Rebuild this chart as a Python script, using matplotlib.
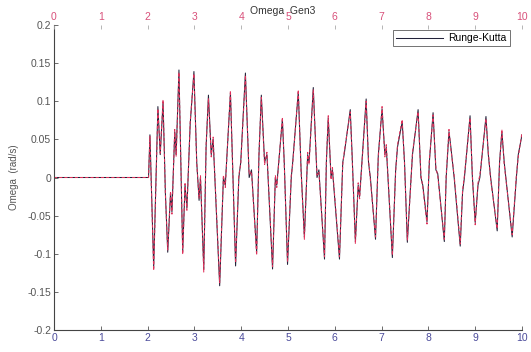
import matplotlib
matplotlib.use("Agg")
import matplotlib.pyplot as plt

# ---- data ----
t_pts = [0.0, 2.02, 2.05, 2.13, 2.22, 2.27, 2.33, 2.38, 2.43, 2.49, 2.52, 2.58,
         2.61, 2.67, 2.71, 2.75, 2.80, 2.84, 2.91, 2.99, 3.05, 3.10, 3.13, 3.20,
         3.25, 3.30, 3.36, 3.40, 3.54, 3.62, 3.66, 3.77, 3.81, 3.88, 3.95, 3.99,
         4.09, 4.17, 4.22, 4.33, 4.38, 4.43, 4.50, 4.55, 4.67, 4.73, 4.76, 4.88,
         4.92, 4.99, 5.07, 5.10, 5.22, 5.28, 5.35, 5.42, 5.45, 5.54, 5.62, 5.66,
         5.78, 5.82, 5.86, 5.92, 5.95, 6.10, 6.17, 6.20, 6.33, 6.37, 6.44, 6.50,
         6.53, 6.67, 6.72, 6.76, 6.87, 6.93, 7.01, 7.07, 7.10, 7.23, 7.30, 7.34,
         7.44, 7.49, 7.55, 7.62, 7.66, 7.78, 7.84, 7.88, 7.97, 8.02, 8.10, 8.16,
         8.20, 8.34, 8.38, 8.44, 8.48, 8.55, 8.68, 8.73, 8.77, 8.89, 8.94, 9.00,
         9.06, 9.10, 9.23, 9.28, 9.33, 9.47, 9.52, 9.57, 9.62, 9.79, 9.88, 9.92,
         10.0]
omega_rk = [0.0, 0.0, 0.056, -0.118, 0.093, 0.03, 0.099, -0.02, -0.098, -0.02,
            -0.045, 0.06, 0.03, 0.141, 0.02, -0.097, -0.01, -0.04, 0.07, 0.139,
            0.02, -0.03, 0.0, -0.12, 0.04, 0.108, 0.03, 0.05, -0.142, 0.0,
            -0.01, 0.111, 0.03, -0.116, 0.0, 0.02, 0.137, 0.0, 0.01, -0.098,
            0.03, 0.108, 0.02, 0.03, -0.12, 0.0, -0.01, 0.076, 0.02, -0.114,
            0.0, 0.02, 0.112, 0.01, -0.078, 0.03, 0.02, 0.118, 0.0, 0.01,
            -0.107, 0.02, 0.078, 0.0, 0.01, -0.107, 0.02, 0.03, 0.089, 0.03,
            -0.084, -0.01, -0.025, 0.103, 0.02, 0.0, -0.081, 0.03, 0.09, 0.03,
            0.04, -0.105, 0.01, 0.04, 0.073, 0.02, -0.085, -0.01, 0.03, 0.089,
            0.0, -0.01, -0.058, 0.02, 0.085, 0.01, 0.005, -0.084, 0.0, 0.06,
            0.04, 0.0, -0.09, -0.02, 0.0, 0.081, 0.0, -0.059, -0.01, 0.0,
            0.08, 0.03, 0.0, -0.07, 0.02, 0.06, 0.02, -0.078, 0.0, 0.03,
            0.056]
omega_ref = [0.0, 0.0, 0.054, -0.122, 0.090, 0.032, 0.102, -0.022, -0.095, -0.018,
             -0.048, 0.063, 0.028, 0.138, 0.024, -0.101, -0.008, -0.043, 0.073, 0.136,
             0.018, -0.027, 0.003, -0.124, 0.043, 0.104, 0.027, 0.053, -0.138, 0.003,
             -0.013, 0.114, 0.027, -0.112, 0.004, 0.017, 0.134, 0.004, 0.008, -0.102,
             0.033, 0.105, 0.017, 0.033, -0.117, 0.003, -0.013, 0.079, 0.017, -0.111,
             0.003, 0.017, 0.115, 0.007, -0.081, 0.033, 0.017, 0.115, 0.003, 0.007,
             -0.104, 0.023, 0.081, -0.003, 0.013, -0.104, 0.017, 0.033, 0.086, 0.027,
             -0.087, -0.007, -0.028, 0.100, 0.023, -0.003, -0.078, 0.027, 0.093, 0.027,
             0.043, -0.102, 0.007, 0.043, 0.076, 0.017, -0.082, -0.013, 0.033, 0.086,
             0.003, -0.013, -0.061, 0.023, 0.082, 0.013, 0.002, -0.081, 0.003, 0.063,
             0.037, 0.003, -0.087, -0.017, 0.003, 0.078, 0.003, -0.062, -0.007, 0.003,
             0.077, 0.033, -0.003, -0.067, 0.017, 0.063, 0.017, -0.075, 0.003, 0.027,
             0.059]
xticks = list(range(0, 11))
yticks = [-0.2, -0.15, -0.1, -0.05, 0, 0.05, 0.1, 0.15, 0.2]
ytick_labels = ["-0.2", "-0.15", "-0.1", "-0.05", "0", "0.05", "0.1", "0.15", "0.2"]

plt.rcParams['font.family'] = ['Liberation Sans', 'DejaVu Sans']

fig = plt.figure(figsize=(5.31, 3.52), dpi=100)
ax = fig.add_axes([54/531, 1-330/352, (522-54)/531, (330-25)/352])

ax.plot(t_pts, omega_rk, color='#23233a', lw=0.75, label='Runge-Kutta')
ax.plot(t_pts, omega_ref, color='#e0305a', lw=0.75, dashes=(3, 2))

ax.set_xlim(0, 10)
ax.set_ylim(-0.2, 0.2)
ax.set_xticks(xticks)
ax.set_yticks(yticks)
ax.set_yticklabels(ytick_labels)
for s in ['top', 'right']:
    ax.spines[s].set_visible(False)
for s in ['left', 'bottom']:
    ax.spines[s].set_color('#444444')
    ax.spines[s].set_linewidth(0.8)
ax.tick_params(axis='both', direction='in', length=3, width=0.6, labelsize=7.5,
               colors='#555555', pad=2)
ax.tick_params(axis='x', labelcolor='#4a4a9a')
ax.tick_params(axis='y', labelcolor='#555555')

ax2 = ax.twiny()
ax2.set_xlim(0, 10)
ax2.set_xticks(xticks)
for s in ['top', 'right', 'left', 'bottom']:
    ax2.spines[s].set_visible(False)
ax2.tick_params(axis='x', direction='in', length=3, width=0.6, labelsize=7.5,
                colors='#aaaaaa', labelcolor='#d8507a', pad=2)

ax.set_ylabel('Omega  (rad/s)', fontsize=7, color='#555555', labelpad=6)
fig.text(283/531, 1-11/352, 'Omega  Gen3', ha='center', va='center',
         fontsize=7.5, color='#333333')

leg = ax.legend(loc='upper right', fontsize=7.5, frameon=True, fancybox=False,
                borderpad=0.3, handlelength=4.5, handletextpad=0.5,
                borderaxespad=0.5, bbox_to_anchor=(0.985, 1.0))
leg.get_frame().set_edgecolor('#333333')
leg.get_frame().set_linewidth(0.6)

fig.savefig('out.png', dpi=100)
